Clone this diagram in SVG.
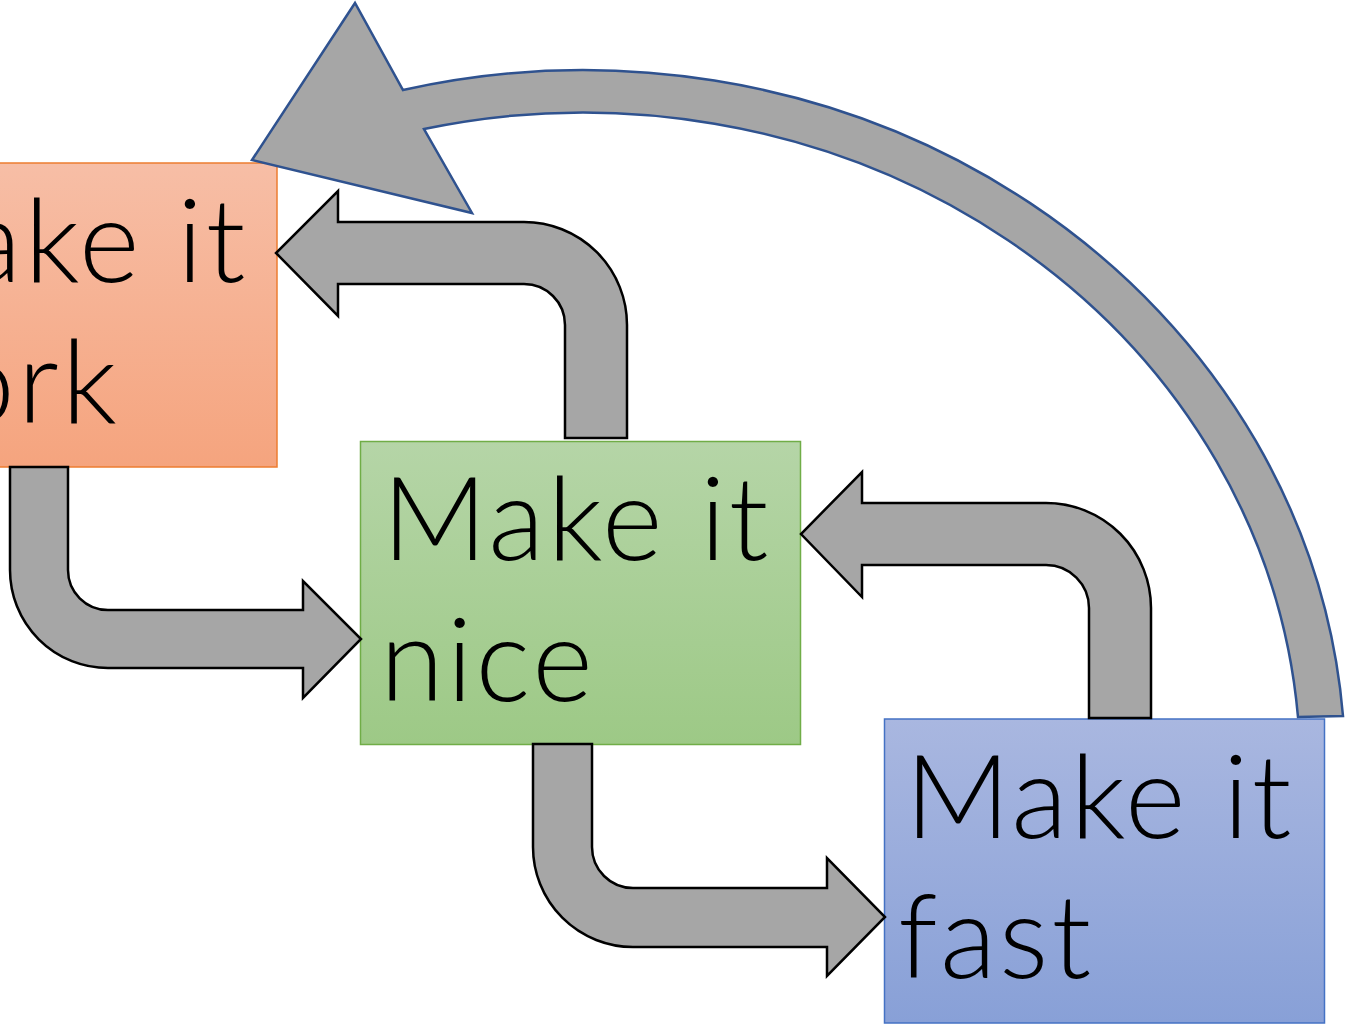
<svg xmlns="http://www.w3.org/2000/svg" width="1346" height="1024" viewBox="0 0 1346 1024">
<defs>
<linearGradient id="gOrange" x1="0" y1="0" x2="0" y2="1">
<stop offset="0" stop-color="#f7bea6"/><stop offset="1" stop-color="#f5a47e"/>
</linearGradient>
<linearGradient id="gGreen" x1="0" y1="0" x2="0" y2="1">
<stop offset="0" stop-color="#b5d5a7"/><stop offset="1" stop-color="#9dc986"/>
</linearGradient>
<linearGradient id="gBlue" x1="0" y1="0" x2="0" y2="1">
<stop offset="0" stop-color="#a9b7e0"/><stop offset="1" stop-color="#88a0d7"/>
</linearGradient>
</defs>
<style>
.lbl{font-family:Lato,"Noto Sans CJK JP",sans-serif;font-weight:300;font-size:116px;letter-spacing:3px;fill:#000}
.blk{fill:#a6a6a6;stroke:#000;stroke-width:2.5;stroke-linejoin:miter}
.big{fill:#a6a6a6;stroke:#2f528f;stroke-width:2.5;stroke-linejoin:miter}
</style>
<rect width="1346" height="1024" fill="#fff"/>
<g id="node-work">
<rect x="-164" y="163" width="441" height="304" fill="url(#gOrange)" stroke="#ed7d31" stroke-width="1.5"/>
<text class="lbl" x="-141" y="282">Make it</text>
<text class="lbl" x="-141" y="423">work</text>
</g>
<g id="node-nice">
<rect x="360.5" y="441.5" width="440" height="303" fill="url(#gGreen)" stroke="#70ad47" stroke-width="1.5"/>
<text class="lbl" x="382" y="560">Make it</text>
<text class="lbl" x="380" y="701">nice</text>
</g>
<g id="node-fast">
<rect x="884.5" y="719" width="440" height="304" fill="url(#gBlue)" stroke="#4472c4" stroke-width="1.5"/>
<text class="lbl" x="905" y="838">Make it</text>
<text class="lbl" x="898" y="978">fast</text>
</g>
<g id="connectors">
<path class="blk" d="M10,467 L68,467 L68,570 A40 40 0 0 0 108,610 L303,610 L303,581 L361,639 L303,698 L303,668 L108,668 A98 98 0 0 1 10,570 Z"/>
<path class="blk" d="M533,744 L592,744 L592,847 A41 41 0 0 0 633,888 L827,888 L827,858 L885,917 L827,976 L827,947 L633,947 A100 100 0 0 1 533,847 Z"/>
<path class="blk" d="M1151,718 L1089,718 L1089,608 A43 43 0 0 0 1046,565 L862,565 L862,597 L801,534 L862,472 L862,503 L1046,503 A105 105 0 0 1 1151,608 Z"/>
<path class="blk" d="M627,438 L565,438 L565,325 A41 41 0 0 0 524,284 L338,284 L338,316 L276,253 L338,191 L338,222 L524,222 A103 103 0 0 1 627,325 Z"/>
<path class="big" d="M1343,716 A762 700 0 0 0 403,90 L355,3 L252,160 L472,213 L424,129 A717 657 0 0 1 1298,717 Z"/>
</g>
</svg>
